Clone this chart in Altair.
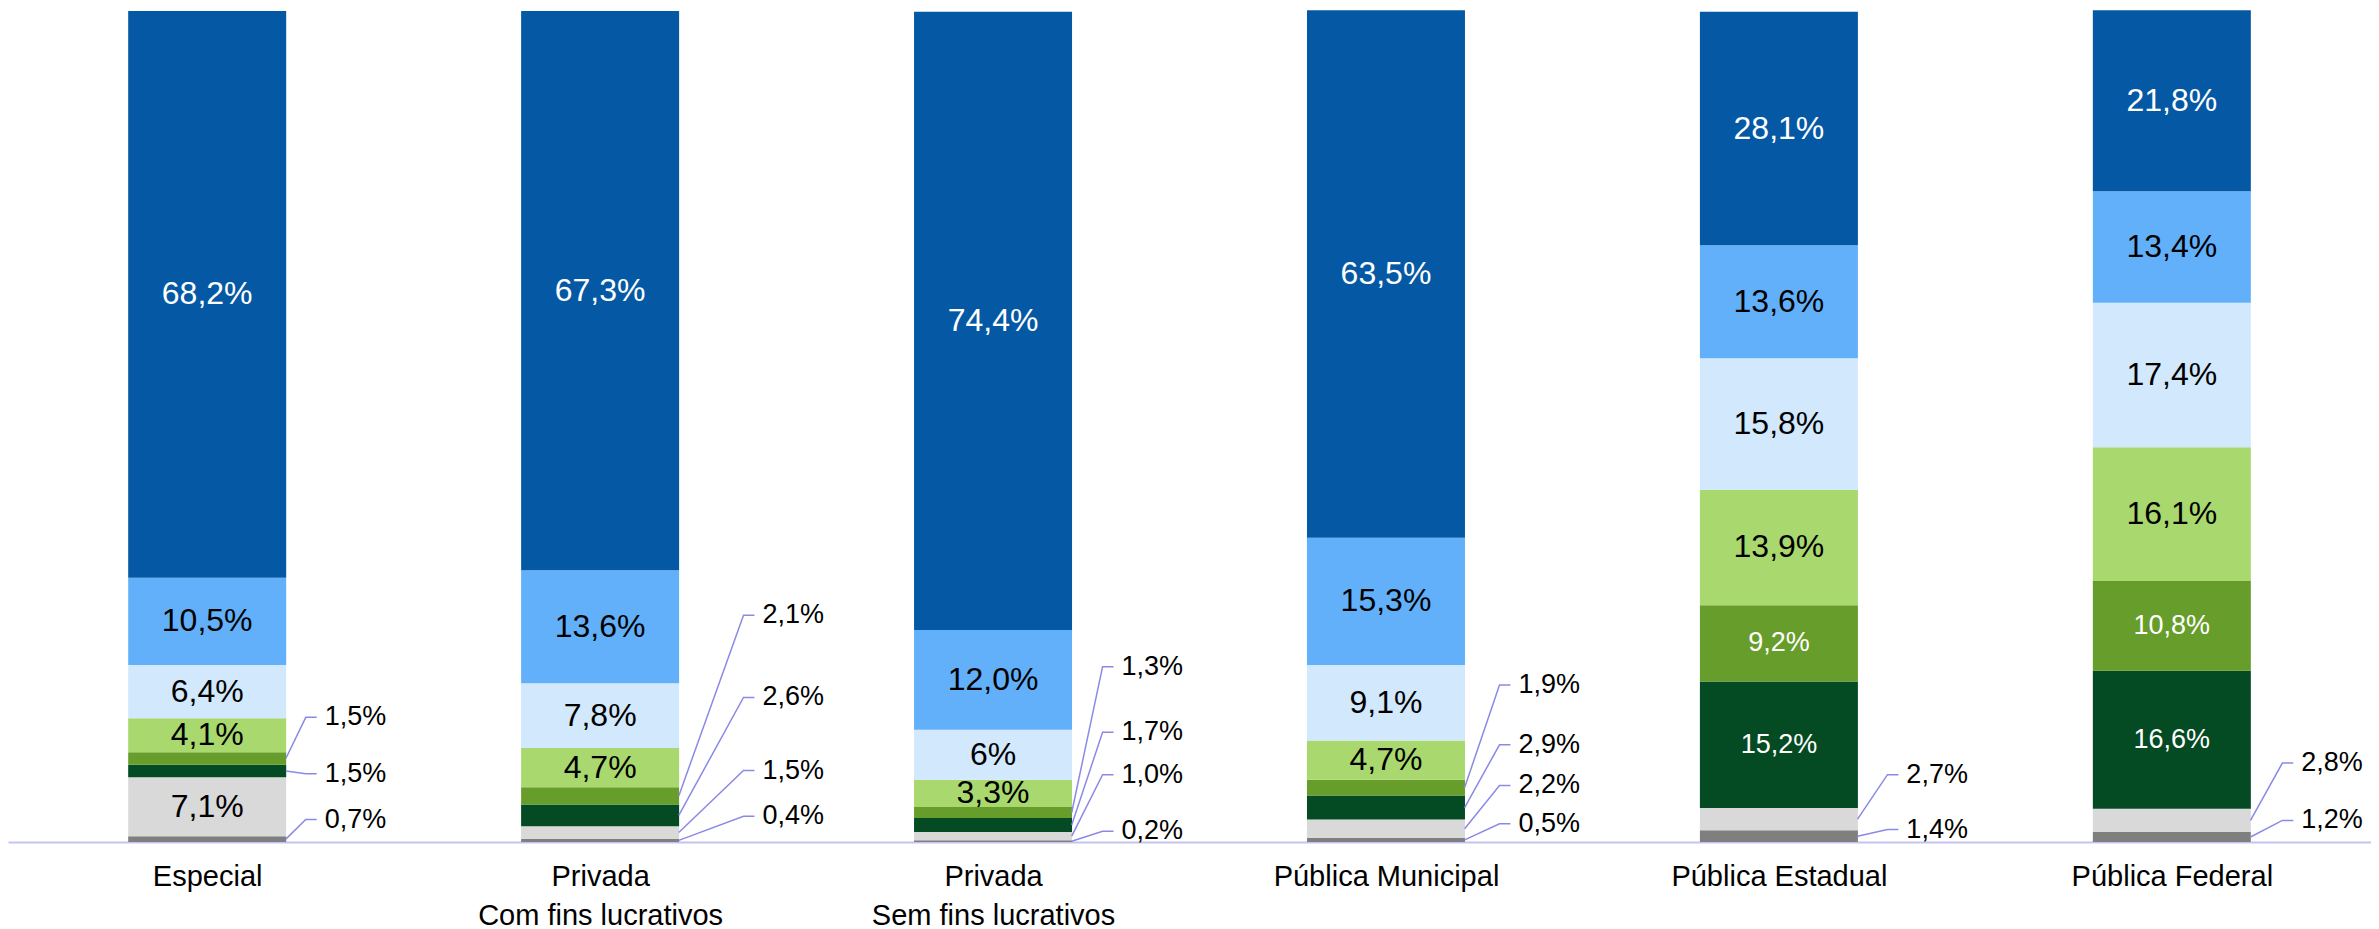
import json
import altair as alt
import pandas as pd

categories = ["Especial", "Privada\nCom fins lucrativos", "Privada\nSem fins lucrativos",
              "Pública Municipal", "Pública Estadual", "Pública Federal"]

# series, bottom to top
series_names = ["cinza_escuro", "cinza_claro", "verde_escuro", "verde_medio",
                "verde_claro", "azul_palido", "azul_claro", "azul_escuro"]
cinza_escuro = [0.7, 0.4, 0.2, 0.5, 1.4, 1.2]
cinza_claro = [7.1, 1.5, 1.0, 2.2, 2.7, 2.8]
verde_escuro = [1.5, 2.6, 1.7, 2.9, 15.2, 16.6]
verde_medio = [1.5, 2.1, 1.3, 1.9, 9.2, 10.8]
verde_claro = [4.1, 4.7, 3.3, 4.7, 13.9, 16.1]
azul_palido = [6.4, 7.8, 6, 9.1, 15.8, 17.4]
azul_claro = [10.5, 13.6, 12.0, 15.3, 13.6, 13.4]
azul_escuro = [68.2, 67.3, 74.4, 63.5, 28.1, 21.8]
series_values = [cinza_escuro, cinza_claro, verde_escuro, verde_medio,
                 verde_claro, azul_palido, azul_claro, azul_escuro]

# value (in %) where the outside callout label sits; None = label inside the bar
callout_cinza_escuro = [2.7, 3.1, 1.3, 2.2, 1.5, 2.6]
callout_cinza_claro = [None, 8.6, 8.1, 6.8, 8.1, 9.5]
callout_verde_escuro = [8.2, 17.4, 13.2, 11.7, None, None]
callout_verde_medio = [15.0, 27.3, 21.1, 18.9, None, None]
callouts = {"cinza_escuro": callout_cinza_escuro, "cinza_claro": callout_cinza_claro,
            "verde_escuro": callout_verde_escuro, "verde_medio": callout_verde_medio}

colors = ["#7F7F7F", "#D9D9D9", "#044A22", "#679D2A", "#A9D86E", "#D2E8FC", "#62B0F9", "#0559A4"]
white_text = {"verde_escuro", "verde_medio", "azul_escuro"}
small_text = {"verde_escuro", "verde_medio"}

FONT = "Liberation Sans, Arial, sans-serif"
W, H = 2363, 831
unit = 394.6                  # pixels per category step
X0 = -0.4942
X1 = X0 + W / unit
BAR = 158
half = BAR / 2 / unit
diag_px = [20, 65, 31, 35, 30, 32]   # horizontal reach of the diagonal leader, per bar
dx_hor = 11 / unit
dx_gap = 8 / unit


def fmt(v):
    if isinstance(v, int):
        return f"{v}%"
    return f"{v:.1f}".replace(".", ",") + "%"


bars, inside, lines, outside = [], [], [], []
for ci in range(len(categories)):
    base = 0.0
    dx_diag = diag_px[ci] / unit
    for si, name in enumerate(series_names):
        v = series_values[si][ci]
        y0, y1 = base, base + v
        base = y1
        bars.append({"idx": ci, "serie": name, "y0": y0, "y1": y1})
        mid = (y0 + y1) / 2
        cy = callouts.get(name, [None] * 6)[ci]
        if cy is None:
            inside.append({"idx": ci, "y": mid, "txt": fmt(v),
                           "tc": "white" if name in white_text else "black",
                           "ts": 27 if name in small_text else 32})
        else:
            lid = f"{ci}-{name}"
            xe = ci + half
            lines += [{"lid": lid, "o": 0, "x": xe, "y": mid},
                      {"lid": lid, "o": 1, "x": xe + dx_diag, "y": cy},
                      {"lid": lid, "o": 2, "x": xe + dx_diag + dx_hor, "y": cy}]
            outside.append({"idx": ci, "x": xe + dx_diag + dx_hor + dx_gap, "y": cy, "txt": fmt(v)})

bars = pd.DataFrame(bars)
inside = pd.DataFrame(inside)
lines = pd.DataFrame(lines)
outside = pd.DataFrame(outside)

label_arr = json.dumps([c.split("\n") for c in categories], ensure_ascii=False)

xscale = alt.Scale(domain=[X0, X1], nice=False, zero=False)
yscale = alt.Scale(domain=[0, 100], nice=False, zero=True)

bar_layer = alt.Chart(bars).mark_bar(size=BAR).encode(
    x=alt.X("idx:Q", scale=xscale,
            axis=alt.Axis(values=list(range(len(categories))), labelExpr=f"{label_arr}[datum.value]",
                          grid=False, ticks=False, domain=True, domainColor="#C3C3F2", domainWidth=2,
                          labelFont=FONT, labelFontSize=29, labelColor="black", labelPadding=20,
                          labelLineHeight=39, labelOverlap=False, labelFlush=False, labelLimit=0,
                          title=None)),
    y=alt.Y("y0:Q", scale=yscale, axis=None),
    y2="y1:Q",
    color=alt.Color("serie:N", scale=alt.Scale(domain=series_names, range=colors), legend=None),
)

inside_layer = alt.Chart(inside).mark_text(font=FONT, baseline="middle", align="center").encode(
    x=alt.X("idx:Q", scale=xscale),
    y=alt.Y("y:Q", scale=yscale),
    text="txt:N",
    color=alt.Color("tc:N", scale=None),
    size=alt.Size("ts:Q", scale=None),
)

line_layer = alt.Chart(lines).mark_line(color="#8A8AE6", strokeWidth=1.5).encode(
    x=alt.X("x:Q", scale=xscale),
    y=alt.Y("y:Q", scale=yscale),
    detail="lid:N",
    order="o:Q",
)

outside_layer = alt.Chart(outside).mark_text(font=FONT, fontSize=27, align="left", baseline="middle",
                                             color="black").encode(
    x=alt.X("x:Q", scale=xscale),
    y=alt.Y("y:Q", scale=yscale),
    text="txt:N",
)

chart = alt.layer(bar_layer, line_layer, inside_layer, outside_layer).properties(
    width=W, height=H,
    autosize=alt.AutoSizeParams(type="none"),
    padding={"left": 0, "top": 3, "right": 0, "bottom": 90},
    background="white",
).configure_view(stroke=None)

chart.save("out.html", embed_options={"renderer": "svg", "actions": False})
